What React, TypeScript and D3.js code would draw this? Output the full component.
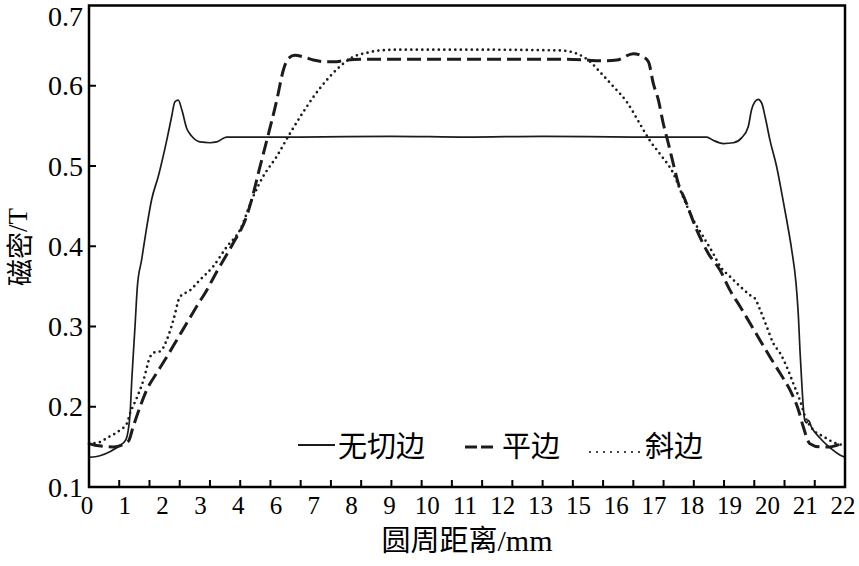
import React from "react";
import * as d3 from "d3";

// x in tick units (axis has 25 tick intervals), y in tesla
const solidX = [0, 0.36, 0.69, 1.03, 1.22, 1.29, 1.36, 1.42, 1.52, 1.6, 1.74, 1.91, 2.07, 2.29, 2.57, 2.73, 2.84, 2.95, 3.07, 3.23, 3.4, 3.67, 4.0, 4.22, 4.55, 7, 10, 12.5, 15, 18, 20.43, 20.64, 20.98, 21.31, 21.58, 21.8, 21.91, 22.02, 22.13, 22.25, 22.36, 22.52, 22.74, 22.91, 23.07, 23.24, 23.38, 23.46, 23.51, 23.57, 23.62, 23.67, 23.73, 23.79, 23.9, 24.17, 24.5, 24.83, 25];
const solidY = [0.137, 0.139, 0.144, 0.152, 0.159, 0.169, 0.192, 0.237, 0.299, 0.35, 0.383, 0.424, 0.458, 0.487, 0.532, 0.561, 0.58, 0.582, 0.57, 0.547, 0.537, 0.53, 0.529, 0.53, 0.536, 0.536, 0.537, 0.536, 0.537, 0.536, 0.536, 0.532, 0.528, 0.529, 0.535, 0.549, 0.57, 0.58, 0.583, 0.578, 0.561, 0.532, 0.499, 0.466, 0.433, 0.395, 0.354, 0.312, 0.271, 0.23, 0.2, 0.183, 0.18, 0.183, 0.174, 0.161, 0.149, 0.14, 0.137];

const dashX = [0, 0.2, 0.8, 1.3, 1.46, 1.69, 1.91, 2.24, 2.57, 2.9, 3.23, 3.56, 3.89, 4.22, 4.77, 5.21, 5.38, 5.6, 5.88, 6.21, 6.43, 6.59, 6.81, 7.09, 7.42, 7.86, 8.19, 8.52, 9.18, 12.5, 15.8, 16.46, 16.9, 17.45, 18.0, 18.33, 18.5, 18.66, 18.83, 18.99, 19.16, 19.32, 19.49, 19.71, 20.1, 20.48, 20.87, 21.2, 21.53, 21.86, 22.19, 22.52, 22.85, 23.18, 23.46, 23.62, 23.84, 24.17, 24.5, 24.73, 25];
const dashY = [0.154, 0.152, 0.15, 0.157, 0.175, 0.2, 0.221, 0.242, 0.262, 0.283, 0.304, 0.325, 0.345, 0.368, 0.404, 0.437, 0.458, 0.491, 0.532, 0.582, 0.62, 0.634, 0.638, 0.636, 0.632, 0.63, 0.63, 0.632, 0.633, 0.633, 0.633, 0.632, 0.631, 0.632, 0.64, 0.636, 0.63, 0.603, 0.582, 0.553, 0.528, 0.503, 0.478, 0.458, 0.42, 0.391, 0.37, 0.345, 0.325, 0.304, 0.283, 0.262, 0.242, 0.221, 0.196, 0.175, 0.154, 0.15, 0.15, 0.152, 0.155];

const dotX = [0, 0.36, 0.59, 1.03, 1.25, 1.36, 1.58, 1.8, 2.02, 2.18, 2.35, 2.57, 2.79, 3.01, 3.34, 3.67, 4.11, 4.55, 4.99, 5.43, 5.76, 6.21, 6.59, 6.98, 7.42, 7.86, 8.3, 8.74, 9.18, 9.62, 10.28, 12.5, 15.58, 16.13, 16.57, 16.9, 17.34, 17.78, 18.21, 18.54, 18.88, 19.32, 19.65, 19.98, 20.31, 20.64, 20.87, 21.2, 21.53, 21.86, 22.02, 22.19, 22.41, 22.63, 22.85, 23.07, 23.29, 23.51, 23.68, 23.95, 24.28, 24.73, 25];
const dotY = [0.154, 0.156, 0.161, 0.171, 0.179, 0.192, 0.211, 0.233, 0.262, 0.268, 0.269, 0.283, 0.308, 0.337, 0.345, 0.358, 0.375, 0.399, 0.42, 0.462, 0.487, 0.512, 0.537, 0.561, 0.586, 0.607, 0.624, 0.636, 0.641, 0.644, 0.645, 0.645, 0.644, 0.64, 0.63, 0.617, 0.599, 0.58, 0.553, 0.532, 0.515, 0.491, 0.461, 0.433, 0.412, 0.391, 0.375, 0.362, 0.35, 0.339, 0.335, 0.321, 0.3, 0.279, 0.267, 0.25, 0.229, 0.208, 0.188, 0.171, 0.163, 0.154, 0.152];

const xTickCount = 25;
const xLabels = ["0", "1", "2", "3", "4", "6", "7", "8", "9", "10", "11", "12", "13", "15", "16", "17", "18", "19", "20", "21", "22"];
const yTicks = [0.1, 0.2, 0.3, 0.4, 0.5, 0.6, 0.7];
const yTickLabels = ["0.1", "0.2", "0.3", "0.4", "0.5", "0.6", "0.7"];
const legendLabels = ["无切边", "平边", "斜边"];
const xTitle = "圆周距离/mm";
const yTitle = "磁密/T";

const W = 859, H = 566;
const L = 89, R = 845, T = 5.5, B = 487;
const INK = "#1c1c1c";
const SERIF = "'Liberation Serif', 'Times New Roman', serif";
const CJK = "'Noto Sans CJK SC', 'Noto Sans', sans-serif";

export default function App() {
  const x = d3.scaleLinear().domain([0, xTickCount]).range([L, R]);
  const y = d3.scaleLinear().domain([0.1, 0.7]).range([B, T]);
  const xl = d3.scalePoint<string>().domain(xLabels).range([87, 843]);

  const mk = (xs: number[], ys: number[]) =>
    d3
      .line<number>()
      .x((_, i) => x(xs[i]))
      .y((v) => y(v))
      .curve(d3.curveMonotoneX)(ys) || "";

  const ticksX = d3.range(1, xTickCount);

  return (
    <svg
      width={W}
      height={H}
      style={{ position: "fixed", left: 0, top: 0, background: "#fff" }}
    >
      <rect x={0} y={0} width={W} height={H} fill="#fff" />
      {/* curves */}
      <path d={mk(solidX, solidY)} fill="none" stroke={INK} strokeWidth={1.7} />
      <path d={mk(dashX, dashY)} fill="none" stroke={INK} strokeWidth={3} strokeDasharray="14,6" />
      <path d={mk(dotX, dotY)} fill="none" stroke={INK} strokeWidth={2.7} strokeDasharray="0,5.5" strokeLinecap="round" />

      {/* ticks */}
      {ticksX.map((t) => (
        <line key={"xt" + t} x1={x(t)} x2={x(t)} y1={B} y2={B - 7} stroke="#000" strokeWidth={2} />
      ))}
      {yTicks.slice(1, -1).map((t) => (
        <line key={"yt" + t} x1={L} x2={L + 7} y1={y(t)} y2={y(t)} stroke="#000" strokeWidth={2} />
      ))}
      {/* frame */}
      <rect x={L} y={T} width={R - L} height={B - T} fill="none" stroke="#000" strokeWidth={2.5} />

      {/* tick labels */}
      {yTicks.map((t, i) => (
        <text key={"yl" + t} x={83} y={Math.max(y(t), 16)} textAnchor="end" dominantBaseline="central" fontFamily={SERIF} fontSize={28} fill="#000">
          {yTickLabels[i]}
        </text>
      ))}
      {xLabels.map((l) => (
        <text key={"xl" + l} x={xl(l)} y={514} textAnchor="middle" fontFamily={SERIF} fontSize={25} fill="#000">
          {l}
        </text>
      ))}

      {/* titles */}
      <text x={467} y={551} textAnchor="middle" fontFamily={CJK} fontSize={29} fill="#000">
        <tspan>{xTitle.slice(0, 4)}</tspan>
        <tspan fontFamily={SERIF} fontSize={30}>{xTitle.slice(4)}</tspan>
      </text>
      <text
        transform={`translate(18,247) rotate(-90)`}
        textAnchor="middle"
        dominantBaseline="central"
        fontFamily={CJK}
        fontSize={27}
        fill="#000"
      >
        <tspan>{yTitle.slice(0, 2)}</tspan>
        <tspan fontFamily={SERIF}>{yTitle.slice(2)}</tspan>
      </text>

      {/* legend */}
      <line x1={298} x2={335} y1={445} y2={445} stroke={INK} strokeWidth={1.8} />
      <text x={338} y={444} dominantBaseline="central" fontFamily={CJK} fontSize={29} fill="#000">
        {legendLabels[0]}
      </text>
      <line x1={465} x2={494} y1={447} y2={447} stroke={INK} strokeWidth={3} strokeDasharray="12,4" />
      <text x={502} y={444} dominantBaseline="central" fontFamily={CJK} fontSize={29} fill="#000">
        {legendLabels[1]}
      </text>
      <line x1={590} x2={640} y1={452} y2={452} stroke={INK} strokeWidth={2.2} strokeDasharray="0,7" strokeLinecap="round" />
      <text x={645} y={444} dominantBaseline="central" fontFamily={CJK} fontSize={29} fill="#000">
        {legendLabels[2]}
      </text>
    </svg>
  );
}
